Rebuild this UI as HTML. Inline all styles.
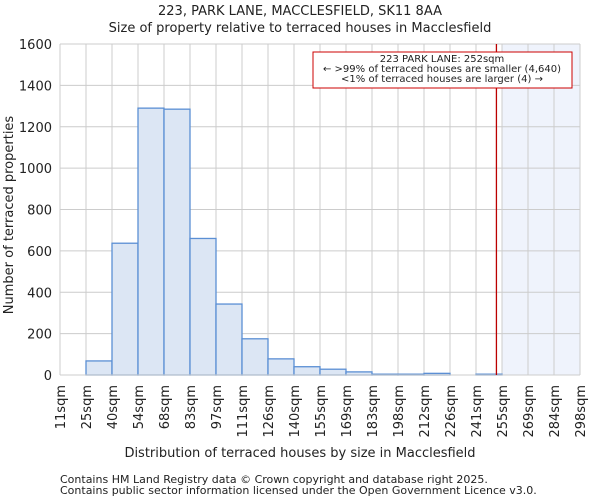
<!DOCTYPE html>
<html><head><meta charset="utf-8"><style>
body{margin:0;background:#fff;font-family:"DejaVu Sans","Liberation Sans",sans-serif}
svg text{font-family:"DejaVu Sans","Liberation Sans",sans-serif;fill:#222}
</style></head><body>
<svg id="c" width="600" height="500"></svg>
<script>
const edges=["11sqm","25sqm","40sqm","54sqm","68sqm","83sqm","97sqm","111sqm","126sqm","140sqm","155sqm","169sqm","183sqm","198sqm","212sqm","226sqm","241sqm","255sqm","269sqm","284sqm","298sqm"];
const edgeVals=[11,25,40,54,68,83,97,111,126,140,155,169,183,198,212,226,241,255,269,284,298];
const counts=[0,68,637,1290,1285,660,343,175,78,40,28,15,4,4,8,0,4,0,0,0];
const yTicks=[0,200,400,600,800,1000,1200,1400,1600];
const subject=252;
const NS="http://www.w3.org/2000/svg";
const svg=document.getElementById('c');
const L=60,R=580,T=44,B=375,bw=(R-L)/counts.length;
const ys=v=>B-v/1600*(B-T);
const xi=i=>L+i*bw;
function xv(v){for(let i=0;i<edgeVals.length-1;i++){if(v<=edgeVals[i+1])return xi(i)+(v-edgeVals[i])/(edgeVals[i+1]-edgeVals[i])*bw;}return R;}
function el(t,a,txt){const e=document.createElementNS(NS,t);for(const k in a)e.setAttribute(k,a[k]);if(txt!=null)e.textContent=txt;svg.appendChild(e);return e;}
let e;
e=el('rect',{x:xv(edgeVals[17]),y:T,width:R-xv(edgeVals[17]),height:B-T,fill:'#eff3fc'});


yTicks.forEach(v=>{e=el('line',{x1:L,x2:R,y1:ys(v),y2:ys(v),stroke:'#ccc'});


e=el('text',{x:L-8,y:ys(v)+5,'text-anchor':'end','font-size':13},v);

});
edges.forEach((s,i)=>{e=el('line',{x1:xi(i),x2:xi(i),y1:T,y2:B,stroke:'#ccc'});


e=el('text',{x:0,y:0,'text-anchor':'end','font-size':13,transform:`translate(${xi(i)+5},${B+10}) rotate(-90)`},s);

});
counts.forEach((v,i)=>{if(v<=0)return;e=el('rect',{x:xi(i),y:ys(v),width:bw,height:B-ys(v),fill:'#dce6f4',stroke:'#5b8fd4','stroke-width':1.3});

});
e=el('line',{x1:L,x2:R,y1:B,y2:B,stroke:'#ccc'});


e=el('line',{x1:xv(subject),x2:xv(subject),y1:T,y2:B,stroke:'#b00','stroke-width':1.3});


e=el('rect',{x:313,y:52,width:259,height:36,fill:'#fff',stroke:'#c00'});


[["223 PARK LANE: 252sqm",62],["← >99% of terraced houses are smaller (4,640)",72],["<1% of terraced houses are larger (4) →",82]].forEach(a=>{e=el('text',{x:442,y:a[1],'text-anchor':'middle','font-size':10},a[0]);

});
e=el('text',{x:300,y:15,'text-anchor':'middle','font-size':13},"223, PARK LANE, MACCLESFIELD, SK11 8AA");


e=el('text',{x:300,y:32,'text-anchor':'middle','font-size':13},"Size of property relative to terraced houses in Macclesfield");


e=el('text',{x:300,y:457,'text-anchor':'middle','font-size':13},"Distribution of terraced houses by size in Macclesfield");


e=el('text',{x:0,y:0,'text-anchor':'middle','font-size':13,transform:'translate(13,215) rotate(-90)'},"Number of terraced properties");


e=el('text',{x:60,y:483,'font-size':11,fill:'#444'},"Contains HM Land Registry data © Crown copyright and database right 2025.");


e=el('text',{x:60,y:494,'font-size':11,fill:'#444'},"Contains public sector information licensed under the Open Government Licence v3.0.");


</script>
</body></html>
